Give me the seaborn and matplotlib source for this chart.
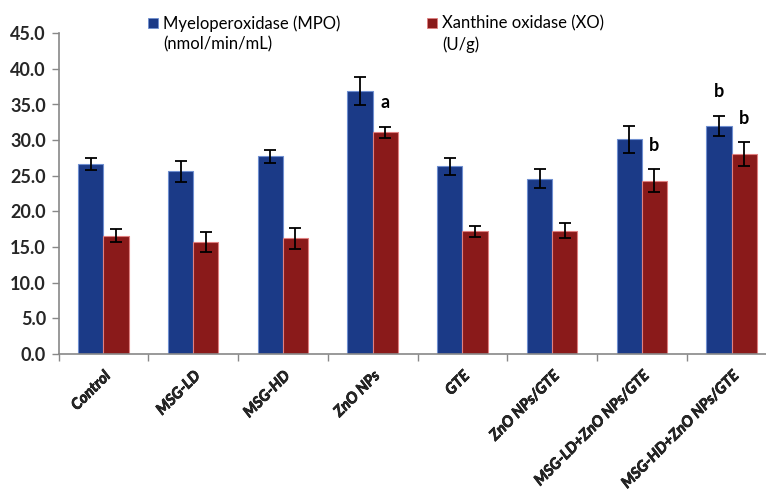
import numpy as np
import pandas as pd
import seaborn as sns
import matplotlib.pyplot as plt
import matplotlib.patheffects as pe
from matplotlib.patches import Rectangle
from matplotlib.ticker import FixedLocator

groups = ["Control", "MSG-LD", "MSG-HD", "ZnO NPs", "GTE", "ZnO NPs/GTE",
          "MSG-LD+ZnO NPs/GTE", "MSG-HD+ZnO NPs/GTE"]
mpo = [26.6, 25.6, 27.7, 36.9, 26.3, 24.6, 30.1, 32.0]
mpo_err = [0.85, 1.45, 0.85, 1.95, 1.2, 1.35, 1.95, 1.4]
xo = [16.6, 15.7, 16.2, 31.1, 17.2, 17.3, 24.3, 28.0]
xo_err = [0.95, 1.45, 1.5, 0.8, 0.8, 1.05, 1.6, 1.7]
series = ["Myeloperoxidase (MPO)\n(nmol/min/mL)", "Xanthine oxidase (XO)\n(U/g)"]
# significance letters: (group index, series index, letter)
letters = [(3, 1, "a"), (6, 1, "b"), (7, 0, "b"), (7, 1, "b")]

blue = "#1b3a87"
red = "#8a1a1a"

df = pd.DataFrame({
    "group": groups * 2,
    "series": [series[0]] * len(groups) + [series[1]] * len(groups),
    "value": mpo + xo,
})

sns.set_style("white")
plt.rcParams["font.family"] = ["Lato", "DejaVu Sans"]

fig = plt.figure(figsize=(7.66, 4.98), dpi=100)
ax = fig.add_axes([58.5 / 766, 1 - 353.7 / 498, 718 / 766, 320.4 / 498])

sns.barplot(data=df, x="group", y="value", hue="series", order=groups,
            hue_order=series, palette=[blue, red], width=0.56, gap=0,
            errorbar=None, legend=False, ax=ax, saturation=1)

errs = [mpo_err, xo_err]
edges = ["#6f8fd0", "#e08080"]
tops = {}
bar_conts = list(ax.containers)
for si, cont in enumerate(bar_conts):
    for gi, bar in enumerate(cont):
        bar.set_edgecolor(edges[si])
        bar.set_linewidth(0.8)
        cx = bar.get_x() + bar.get_width() / 2
        h = bar.get_height()
        ax.errorbar(cx, h, yerr=errs[si][gi], color="black", capsize=4,
                    elinewidth=1.3, capthick=1.3, zorder=5)
        tops[(gi, si)] = (cx, h + errs[si][gi])

for gi, si, let in letters:
    cx, top = tops[(gi, si)]
    ax.text(cx, top + 3.4, let, ha="center", va="center", fontsize=13,
            fontweight="bold", color="black")

bold_fx = [pe.withStroke(linewidth=0.5, foreground="black")]

ax.set_ylim(0, 45)
ax.set_xlim(-0.5, len(groups) - 0.5)
ax.set_yticks(np.arange(0, 46, 5))
ax.set_yticklabels([f"{v:.1f}" for v in np.arange(0, 46, 5)],
                   fontsize=13, fontweight="bold")
ax.set_xticks(range(len(groups)))
ax.set_xticklabels(groups, rotation=45, ha="right", rotation_mode="anchor",
                   fontsize=11, fontweight="bold", fontstyle="italic")
for t in ax.get_xticklabels():
    t.set_path_effects(bold_fx)
ax.xaxis.set_minor_locator(FixedLocator(np.arange(-0.5, len(groups), 1)))
ax.tick_params(axis="x", which="major", length=0, pad=11)
ax.tick_params(axis="x", which="minor", length=5, color="#888888", width=1,
               direction="out", bottom=True)
ax.tick_params(axis="y", length=5, color="#888888", width=1, direction="out",
               left=True, pad=4)
ax.set_xlabel("")
ax.set_ylabel("")
for s in ["top", "right"]:
    ax.spines[s].set_visible(False)
for s in ["left", "bottom"]:
    ax.spines[s].set_color("#888888")
    ax.spines[s].set_linewidth(1.2)

# legend drawn by hand so the square sits beside the first line
leg = [(148, series[0], blue, edges[0]), (427, series[1], red, edges[1])]
for px, lab, fc, ec in leg:
    fig.add_artist(Rectangle((px / 766, 1 - 28 / 498), 10 / 766, 10 / 498,
                             transform=fig.transFigure, facecolor=fc,
                             edgecolor=ec, linewidth=0.6))
    fig.text((px + 15) / 766, 1 - 15 / 498, lab, ha="left", va="top",
             fontsize=12, linespacing=1.4, color="black")

fig.savefig("out.png", dpi=100)
